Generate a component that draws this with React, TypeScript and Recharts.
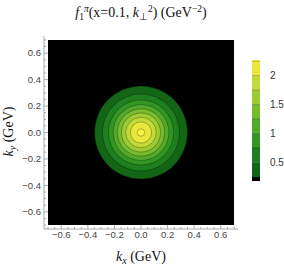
import React from "react";
import {
  ComposedChart,
  Scatter,
  XAxis,
  YAxis,
  ReferenceArea,
  ReferenceLine,
} from "recharts";

// contour levels (GeV^-2) and the radius of each contour (GeV)
const levels = [0.25, 0.5, 0.75, 1.0, 1.25, 1.5, 1.75, 2.0, 2.25];
const radii = [0.35, 0.29, 0.245, 0.21, 0.178, 0.147, 0.115, 0.08, 0.028];
const bandColors = [
  "#126616",
  "#1d7f1d",
  "#319624",
  "#53a92a",
  "#77bb2e",
  "#9dcc33",
  "#c3da37",
  "#e7e83b",
  "#f8f23f",
];
const peak = 2.27;
const legendBottom = 0.18;

const majorTicks = [-0.6, -0.4, -0.2, 0, 0.2, 0.4, 0.6];
const allTicks = [
  -0.7, -0.65, -0.6, -0.55, -0.5, -0.45, -0.4, -0.35, -0.3, -0.25, -0.2, -0.15,
  -0.1, -0.05, 0, 0.05, 0.1, 0.15, 0.2, 0.25, 0.3, 0.35, 0.4, 0.45, 0.5, 0.55,
  0.6, 0.65, 0.7,
];
const legendTicks = [0.5, 1, 1.5, 2];

const W = 284;
const H = 266;
const margin = { top: 36, right: 46, bottom: 0, left: 0 };
const yAxisW = 44;
const xAxisH = 37;
const dom = 0.73;
const plotW = W - margin.right - margin.left - yAxisW;
const PX = plotW / (2 * dom);

const FRAME = "#aaaaaa";
const TICKFONT = "'Liberation Sans', Arial, sans-serif";
const SERIF = "'Liberation Serif', 'Times New Roman', serif";

const circles = levels.map((lv, i) => ({ x: 0, y: 0, r: radii[i], level: lv, fill: bandColors[i] }));
const bands = levels.map((lv, i) => ({
  lo: lv,
  hi: i < levels.length - 1 ? levels[i + 1] : peak,
  color: bandColors[i],
}));

const isMajor = (v: number) => majorTicks.some((m) => Math.abs(m - v) < 1e-6);
const fmt = (v: number) => (v < 0 ? "\u2212" + Math.abs(v).toFixed(1) : v.toFixed(1));

const makeTick = (side: "bottom" | "top" | "left" | "right") => (props: any) => {
  const { x, y, payload } = props;
  const v = payload.value as number;
  const len = isMajor(v) ? 4 : 2;
  let line;
  if (side === "bottom") line = <line x1={x} x2={x} y1={y} y2={y - len} stroke={FRAME} />;
  else if (side === "top") line = <line x1={x} x2={x} y1={y} y2={y + len} stroke={FRAME} />;
  else if (side === "left") line = <line x1={x} x2={x + len} y1={y} y2={y} stroke={FRAME} />;
  else line = <line x1={x} x2={x - len} y1={y} y2={y} stroke={FRAME} />;
  let label = null;
  if (isMajor(v) && side === "bottom")
    label = (
      <text x={x} y={y + 9} textAnchor="middle" fontSize={9.5} fill="#444" fontFamily={TICKFONT}>
        {fmt(v)}
      </text>
    );
  if (isMajor(v) && side === "left")
    label = (
      <text x={x - 3} y={y + 3.3} textAnchor="end" fontSize={9.5} fill="#444" fontFamily={TICKFONT}>
        {fmt(v)}
      </text>
    );
  return (
    <g>
      {line}
      {label}
    </g>
  );
};

export default function App() {
  return (
    <div style={{ position: "absolute", left: 0, top: 0, width: W, height: H, background: "#fff" }}>
      <ComposedChart width={W} height={H} margin={margin} data={circles}>
        <XAxis
          type="number"
          dataKey="x"
          domain={[-dom, dom]}
          ticks={allTicks}
          interval={0}
          height={xAxisH}
          tickSize={0}
          tickMargin={0}
          tickLine={false}
          axisLine={{ stroke: FRAME }}
          tick={makeTick("bottom")}
        />
        <XAxis
          xAxisId="top"
          orientation="top"
          type="number"
          dataKey="x"
          domain={[-dom, dom]}
          ticks={allTicks}
          interval={0}
          height={0}
          tickSize={0}
          tickMargin={0}
          tickLine={false}
          axisLine={{ stroke: FRAME }}
          tick={makeTick("top")}
        />
        <YAxis
          type="number"
          dataKey="y"
          domain={[-dom, dom]}
          ticks={allTicks}
          interval={0}
          width={yAxisW}
          tickSize={0}
          tickMargin={0}
          tickLine={false}
          axisLine={{ stroke: FRAME }}
          tick={makeTick("left")}
        />
        <YAxis
          yAxisId="right"
          orientation="right"
          type="number"
          dataKey="y"
          domain={[-dom, dom]}
          ticks={allTicks}
          interval={0}
          width={0}
          tickSize={0}
          tickMargin={0}
          tickLine={false}
          axisLine={{ stroke: FRAME }}
          tick={makeTick("right")}
        />
        <ReferenceArea x1={-0.7} x2={0.7} y1={-0.7} y2={0.7} fill="#000" fillOpacity={1} stroke="none" />
        <Scatter
          dataKey="y"
          isAnimationActive={false}
          shape={(p: any) => (
            <circle
              cx={p.cx}
              cy={p.cy}
              r={p.payload.r * PX}
              fill={p.payload.fill}
              stroke="rgba(0,0,0,0.4)"
              strokeWidth={0.7}
            />
          )}
        />
      </ComposedChart>

      <div style={{ position: "absolute", left: 252, top: 60 }}>
        <ComposedChart width={36} height={121} margin={{ top: 0, right: 0, bottom: 0, left: 0 }} data={[{ x: 0 }, { x: 1 }]}>
          <XAxis type="number" dataKey="x" domain={[0, 1]} hide />
          <YAxis
            type="number"
            orientation="right"
            domain={[legendBottom, peak]}
            allowDataOverflow
            ticks={legendTicks}
            interval={0}
            width={28}
            tickLine={false}
            axisLine={false}
            tickMargin={4}
            tick={{ fontSize: 10, fill: "#333", fontFamily: TICKFONT }}
          />
          <ReferenceArea x1={0} x2={1} y1={legendBottom} y2={levels[0]} fill="#000" fillOpacity={1} stroke="none" />
          {bands.map((b) => (
            <ReferenceArea key={b.lo} x1={0} x2={1} y1={b.lo} y2={b.hi} fill={b.color} fillOpacity={1} stroke="none" />
          ))}
          {levels.map((l) => (
            <ReferenceLine key={l} y={l} stroke="rgba(0,0,0,0.35)" strokeWidth={0.8} />
          ))}
        </ComposedChart>
      </div>

      <svg width={W} height={H} style={{ position: "absolute", left: 0, top: 0, pointerEvents: "none" }}>
        <text x={141} y={17} textAnchor="middle" fontSize={14} fontFamily={SERIF} fill="#111">
          <tspan fontStyle="italic">f</tspan>
          <tspan fontSize={9.5} dy={3}>1</tspan>
          <tspan fontSize={9.5} dy={-8} fontStyle="italic">π</tspan>
          <tspan dy={5}>(x=0.1, </tspan>
          <tspan fontStyle="italic">k</tspan>
          <tspan fontSize={9.5} dy={3}>⊥</tspan>
          <tspan fontSize={9.5} dy={-8}>2</tspan>
          <tspan dy={5}>) (GeV</tspan>
          <tspan fontSize={9.5} dy={-5}>−2</tspan>
          <tspan dy={5}>)</tspan>
        </text>
        <text x={141} y={261} textAnchor="middle" fontSize={14} fontFamily={SERIF} fill="#111">
          <tspan fontStyle="italic">k</tspan>
          <tspan fontSize={10} fontStyle="italic" dy={3}>x</tspan>
          <tspan dy={-3}> (GeV)</tspan>
        </text>
        <text
          x={13}
          y={131.5}
          transform="rotate(-90 13 131.5)"
          textAnchor="middle"
          fontSize={14}
          fontFamily={SERIF}
          fill="#111"
        >
          <tspan fontStyle="italic">k</tspan>
          <tspan fontSize={10} fontStyle="italic" dy={3}>y</tspan>
          <tspan dy={-3}> (GeV)</tspan>
        </text>
      </svg>
    </div>
  );
}
